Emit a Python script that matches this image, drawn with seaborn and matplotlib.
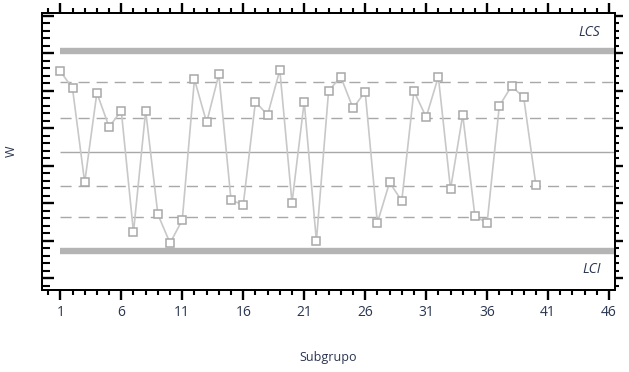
import matplotlib
matplotlib.use("Agg")
import matplotlib.pyplot as plt
import seaborn as sns
import numpy as np
import pandas as pd
from matplotlib.ticker import MultipleLocator

# Data
subgroups = list(range(1, 41))
w_values = [5.52, 5.06, 2.55, 4.94, 4.03, 4.46, 1.22, 4.46, 1.70, 0.93,
            1.55, 5.30, 4.15, 5.43, 2.08, 1.95, 4.70, 4.35, 5.55, 2.01,
            4.70, 0.99, 4.99, 5.37, 4.53, 4.97, 1.47, 2.55, 2.06, 4.99,
            4.29, 5.37, 2.37, 4.35, 1.65, 1.47, 4.59, 5.12, 4.82, 2.48]
lcs = 6.05
lci = 0.72
center = 3.36
zones_dashed = [5.23, 4.27, 2.45, 1.63]
x_ticks = [1, 6, 11, 16, 21, 26, 31, 36, 41, 46]
limit_labels = ["LCS", "LCI"]

df = pd.DataFrame({"Subgrupo": subgroups, "W": w_values})

sns.set_style("white")
plt.rcParams["font.family"] = ["Open Sans", "DejaVu Sans"]

fig = plt.figure(figsize=(6.29, 3.72), dpi=100)
ax = fig.add_axes([0.0668, 0.2204, 0.978 - 0.0668, 0.965 - 0.2204])

xmin, xmax = -0.5, 46.5
ymin, ymax = -0.32, 7.07

# control lines
ax.hlines([lcs, lci], 1, xmax - 0.05, color="#b4b4b4", linewidth=4.6, zorder=1)
ax.hlines([center], 1, xmax - 0.05, color="#a8a8a8", linewidth=1.0, zorder=1)
ax.hlines(zones_dashed, 1, xmax - 0.05, color="#a8a8a8", linewidth=1.0,
          linestyles=(0, (8, 5)), zorder=1)

sns.lineplot(data=df, x="Subgrupo", y="W", ax=ax, color="#c8c8c8", linewidth=1.2,
             marker="s", markersize=5.5, markerfacecolor="white",
             markeredgecolor="#a8a8a8", markeredgewidth=1.1, zorder=3)

ax.text(45.3, lcs + 0.3, limit_labels[0], style="italic", fontsize=10,
        color="#2a3550", ha="right", va="bottom")
ax.text(45.3, lci - 0.3, limit_labels[1], style="italic", fontsize=10,
        color="#2a3550", ha="right", va="top")

ax.set_xlim(xmin, xmax)
ax.set_ylim(ymin, ymax)
ax.set_xticks(x_ticks)
ax.set_xticklabels([str(t) for t in x_ticks], fontsize=10, color="#2a3550")
ax.xaxis.set_minor_locator(MultipleLocator(1))
ax.yaxis.set_major_locator(MultipleLocator(1))
ax.yaxis.set_minor_locator(MultipleLocator(0.2))
ax.set_yticklabels([])

ax.tick_params(axis="x", which="major", direction="out", length=7, width=1.7,
               top=True, bottom=True, color="black", pad=4)
ax.tick_params(axis="x", which="minor", direction="out", length=3.5, width=1.5,
               top=True, bottom=True, color="black")
ax.tick_params(axis="y", which="major", direction="in", length=8.5, width=1.7,
               left=True, right=False, color="black")
ax.tick_params(axis="y", which="minor", direction="in", length=6, width=1.5,
               left=True, right=False, color="black")

ax2 = ax.twinx()
ax2.set_ylim(ymin, ymax)
ax2.yaxis.set_major_locator(MultipleLocator(1))
ax2.yaxis.set_minor_locator(MultipleLocator(0.2))
ax2.set_yticklabels([])
ax2.tick_params(axis="y", which="major", direction="out", length=6, width=1.7,
                right=True, left=False, color="black")
ax2.tick_params(axis="y", which="minor", direction="out", length=3, width=1.5,
                right=True, left=False, color="black")

for a in (ax, ax2):
    for s in a.spines.values():
        s.set_color("black")
        s.set_linewidth(1.4)

ax.set_xlabel("Subgrupo", fontsize=9, color="#2a3550", labelpad=22)
ax.set_ylabel("W", fontsize=9, color="#2a3550", labelpad=14)

fig.savefig("out.png", dpi=100)
